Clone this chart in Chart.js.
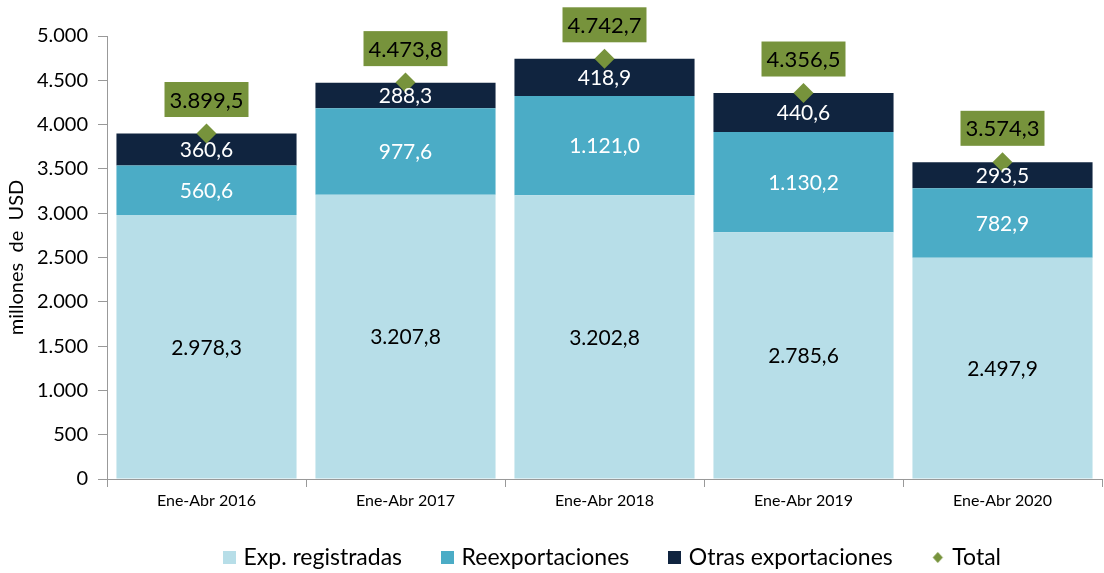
<!DOCTYPE html>
<html>
<head>
<meta charset="utf-8">
<script src="https://cdn.jsdelivr.net/npm/chart.js@4"></script>
<style>
  html, body { margin: 0; padding: 0; background: #fff; overflow: hidden; }
  #wrap { width: 1112px; height: 573px; }
</style>
</head>
<body>
<div id="wrap"><canvas id="exportChart"></canvas></div>
<script>
// datos del grafico (millones de USD)
var categories = ['Ene-Abr 2016', 'Ene-Abr 2017', 'Ene-Abr 2018', 'Ene-Abr 2019', 'Ene-Abr 2020'];
var expRegistradas = [2978.3, 3207.8, 3202.8, 2785.6, 2497.9];
var reexportaciones = [560.6, 977.6, 1121.0, 1130.2, 782.9];
var otrasExportaciones = [360.6, 288.3, 418.9, 440.6, 293.5];
var totales = [3899.5, 4473.8, 4742.7, 4356.5, 3574.3];
var yTicks = [0, 500, 1000, 1500, 2000, 2500, 3000, 3500, 4000, 4500, 5000];

var FONT = 'Lato, "Open Sans", sans-serif';
var COLORS = ['#B7DEE8', '#4BACC6', '#10243F', '#77933C'];

function fmt(v, dec) {
  var parts = v.toFixed(dec).split('.');
  parts[0] = parts[0].replace(/\B(?=(\d{3})+(?!\d))/g, '.');
  return parts.join(',');
}

// marcadores de la leyenda
function legendMark(color, diamond) {
  var c = document.createElement('canvas');
  c.width = 13; c.height = 13;
  var g = c.getContext('2d');
  g.fillStyle = color;
  if (diamond) {
    g.beginPath();
    g.moveTo(6.5, 1); g.lineTo(11.5, 6.5); g.lineTo(6.5, 12); g.lineTo(1.5, 6.5);
    g.closePath(); g.fill();
  } else {
    g.fillRect(0, 0, 13, 13);
  }
  return c;
}

// la leyenda usa mucho espacio horizontal, pero poca altura
var legendHeightPlugin = {
  id: 'legendHeight',
  beforeLayout: function(chart) {
    var lg = chart.legend;
    if (lg && !lg._patched) {
      var fit = lg.fit;
      lg.fit = function() { fit.call(this); this.height = 49; };
      lg._patched = true;
    }
  },
  afterLayout: function(chart) {
    var lg = chart.legend;
    if (!lg) return;
    lg.top -= 20;
    lg.left += 9;
    lg.right += 9;
  }
};

var labelPlugin = {
  id: 'valueLabels',
  afterDatasetsDraw: function(chart) {
    var ctx = chart.ctx;
    ctx.save();
    ctx.textAlign = 'center';
    ctx.textBaseline = 'middle';
    ctx.font = '21px ' + FONT;
    var colors = ['#000', '#fff', '#fff'];
    for (var i = 0; i < 3; i++) {
      var meta = chart.getDatasetMeta(i);
      var data = chart.data.datasets[i].data;
      meta.data.forEach(function(bar, j) {
        ctx.fillStyle = colors[i];
        ctx.fillText(fmt(data[j], 1), bar.x, (bar.y + bar.base) / 2 + 1);
      });
    }
    var tmeta = chart.getDatasetMeta(3);
    ctx.font = '22px ' + FONT;
    tmeta.data.forEach(function(pt, j) {
      var txt = fmt(totales[j], 1);
      var w = ctx.measureText(txt).width + 10;
      var h = 35;
      var cy = pt.y - 34;
      ctx.fillStyle = COLORS[3];
      ctx.fillRect(pt.x - w / 2, cy - h / 2, w, h);
      ctx.fillStyle = '#000';
      ctx.fillText(txt, pt.x, cy + 1);
    });
    ctx.restore();
  }
};

document.addEventListener('DOMContentLoaded', function() {
  var ctx = document.getElementById('exportChart');
  new Chart(ctx, {
    data: {
      labels: categories,
      datasets: [
        { type: 'bar', label: 'Exp. registradas', data: expRegistradas, backgroundColor: COLORS[0], barPercentage: 0.905, categoryPercentage: 1 },
        { type: 'bar', label: 'Reexportaciones', data: reexportaciones, backgroundColor: COLORS[1], barPercentage: 0.905, categoryPercentage: 1 },
        { type: 'bar', label: 'Otras exportaciones', data: otrasExportaciones, backgroundColor: COLORS[2], barPercentage: 0.905, categoryPercentage: 1 },
        { type: 'line', label: 'Total', data: totales, stack: 'total', showLine: false, order: -1,
          pointStyle: 'rectRot', pointRadius: 10, pointHoverRadius: 10,
          backgroundColor: COLORS[3], borderColor: COLORS[3], borderWidth: 0 }
      ]
    },
    options: {
      responsive: true,
      maintainAspectRatio: false,
      animation: false,
      layout: { padding: { top: 36, left: 0, right: 0, bottom: 0 } },
      plugins: {
        legend: {
          position: 'bottom',
          fullSize: false,
          labels: {
            color: '#000',
            font: { family: FONT, size: 23 },
            usePointStyle: true,
            boxWidth: 6,
            boxHeight: 13,
            padding: 42,
            generateLabels: function(chart) {
              return chart.data.datasets.map(function(ds, i) {
                return {
                  text: ds.label,
                  fillStyle: COLORS[i],
                  strokeStyle: COLORS[i],
                  lineWidth: 0,
                  pointStyle: legendMark(COLORS[i], i === 3),
                  datasetIndex: i
                };
              });
            }
          }
        },
        tooltip: { enabled: false }
      },
      scales: {
        x: {
          stacked: true,
          afterFit: function(scale) { scale.height = 45; },
          border: { color: '#999' },
          grid: { drawOnChartArea: false, tickLength: 8, color: '#999', offset: true },
          ticks: { color: '#000', font: { family: FONT, size: 16 }, padding: 4 }
        },
        y: {
          stacked: true,
          min: 0,
          max: 5000,
          afterBuildTicks: function(scale) {
            scale.ticks = yTicks.map(function(v) { return { value: v }; });
          },
          afterFit: function(scale) { scale.width = 107; },
          border: { color: '#999' },
          grid: { drawOnChartArea: false, tickLength: 9, color: '#999' },
          ticks: { color: '#000', font: { family: FONT, size: 20 }, padding: 10,
            callback: function(v) { return fmt(v, 0); } },
          title: { display: true, text: 'millones  de  USD', color: '#000', font: { family: FONT, size: 20 }, padding: { top: 5, bottom: 0 } }
        }
      }
    },
    plugins: [legendHeightPlugin, labelPlugin]
  });
});
</script>
</body>
</html>
